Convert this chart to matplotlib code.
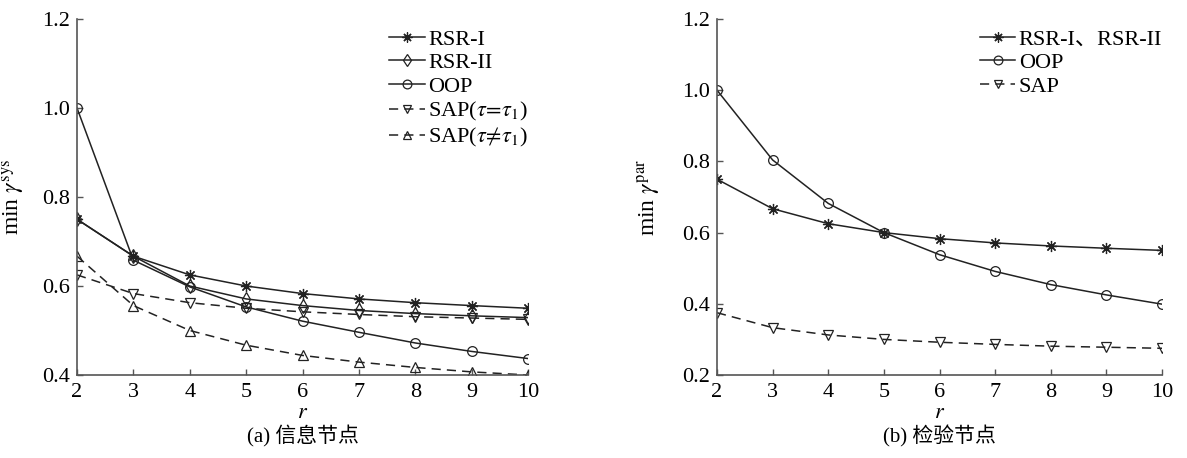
import matplotlib
matplotlib.use("Agg")
import matplotlib.pyplot as plt

plt.rcParams['font.family'] = ['Liberation Serif', 'Noto Sans CJK SC', 'DejaVu Sans']
plt.rcParams['mathtext.fontset'] = 'stix'

r = [2, 3, 4, 5, 6, 7, 8, 9, 10]

# (a) information nodes
a_rsr1 = [0.750, 0.667, 0.625, 0.600, 0.583, 0.571, 0.5625, 0.556, 0.550]
a_rsr2 = [0.750, 0.667, 0.600, 0.571, 0.556, 0.545, 0.538, 0.533, 0.529]
a_oop = [1.000, 0.658, 0.598, 0.553, 0.521, 0.496, 0.472, 0.453, 0.437]
a_sap_eq = [0.625, 0.583, 0.5625, 0.550, 0.542, 0.536, 0.531, 0.528, 0.525]
a_sap_ne = [0.667, 0.556, 0.500, 0.467, 0.444, 0.429, 0.417, 0.407, 0.400]

# (b) check nodes
b_rsr = [0.750, 0.667, 0.625, 0.600, 0.583, 0.571, 0.5625, 0.556, 0.550]
b_oop = [1.000, 0.804, 0.682, 0.600, 0.538, 0.491, 0.454, 0.425, 0.399]
b_sap = [0.375, 0.333, 0.3125, 0.300, 0.292, 0.286, 0.281, 0.278, 0.275]

labels_a = ['RSR-I', 'RSR-II', 'OOP', r'SAP($\tau\!=\!\tau_1$)', r'SAP($\tau\!\neq\!\tau_1$)']
labels_b = ['RSR-I、RSR-II', 'OOP', 'SAP']

W, H = 1187, 458
fig = plt.figure(figsize=(W / 100, H / 100), dpi=100)
ax1 = fig.add_axes([77 / W, 1 - 375 / H, 451 / W, 356 / H])
ax2 = fig.add_axes([717 / W, 1 - 375 / H, 445 / W, 356 / H])

lc = '#222222'
ms = 7
dash = (0, (6, 4))
common = dict(color=lc, lw=1.1, mfc='none', mec=lc, mew=0.9)

ax1.plot(r, a_rsr1, marker=(8, 2, 0), ms=ms + 1, label=labels_a[0], **common)
ax1.plot(r, a_rsr2, marker='d', ms=ms, label=labels_a[1], **common)
ax1.plot(r, a_oop, marker='o', ms=ms, label=labels_a[2], **common)
ax1.plot(r, a_sap_eq, marker='v', ms=ms, ls=dash, label=labels_a[3], **common)
ax1.plot(r, a_sap_ne, marker='^', ms=ms, ls=dash, label=labels_a[4], **common)

ax2.plot(r, b_rsr, marker=(8, 2, 0), ms=ms + 1, label=labels_b[0], **common)
ax2.plot(r, b_oop, marker='o', ms=ms, label=labels_b[1], **common)
ax2.plot(r, b_sap, marker='v', ms=ms, ls=dash, label=labels_b[2], **common)

spine_c = '#555555'
for ax, ylo, lab, ylx in [(ax1, 0.4, r'min $\gamma^{\mathrm{sys}}$', -0.111),
                          (ax2, 0.2, r'min $\gamma^{\mathrm{par}}$', -0.124)]:
    ax.set_xlim(2, 10)
    ax.set_ylim(ylo, 1.2)
    ax.set_xticks(r)
    ax.set_yticks([round(ylo + 0.2 * i, 1) for i in range(int(round((1.2 - ylo) / 0.2)) + 1)])
    ax.set_yticklabels([f'{v:.1f}' for v in ax.get_yticks()])
    for s in ['top', 'right']:
        ax.spines[s].set_visible(False)
    for s in ['left', 'bottom']:
        ax.spines[s].set_color(spine_c)
        ax.spines[s].set_linewidth(1.2)
    ax.tick_params(direction='in', length=4, width=1, colors=spine_c, labelcolor='black', labelsize=16)
    ax.tick_params(axis='x', pad=6)
    ax.tick_params(axis='y', pad=5)
    ax.set_xlabel('$r$', fontsize=16)
    ax.xaxis.set_label_coords(0.5, -0.108)
    ax.xaxis.label.set_va('center')
    ax.set_ylabel(lab, fontsize=17)
    ax.yaxis.set_label_coords(ylx, 0.5)
    ax.legend(loc='upper right', frameon=False, fontsize=16, handlelength=1.6,
              handletextpad=0.15, labelspacing=0.14, borderaxespad=0.0,
              bbox_to_anchor=(1.0, 0.972), borderpad=0.0, markerscale=0.9)

fig.text((77 + 528) / 2 / W, 1 - 436 / H, '(a) 信息节点', ha='center', va='center', fontsize=15)
fig.text((717 + 1162) / 2 / W, 1 - 436 / H, '(b) 检验节点', ha='center', va='center', fontsize=15)

fig.savefig('out.png', dpi=100)
